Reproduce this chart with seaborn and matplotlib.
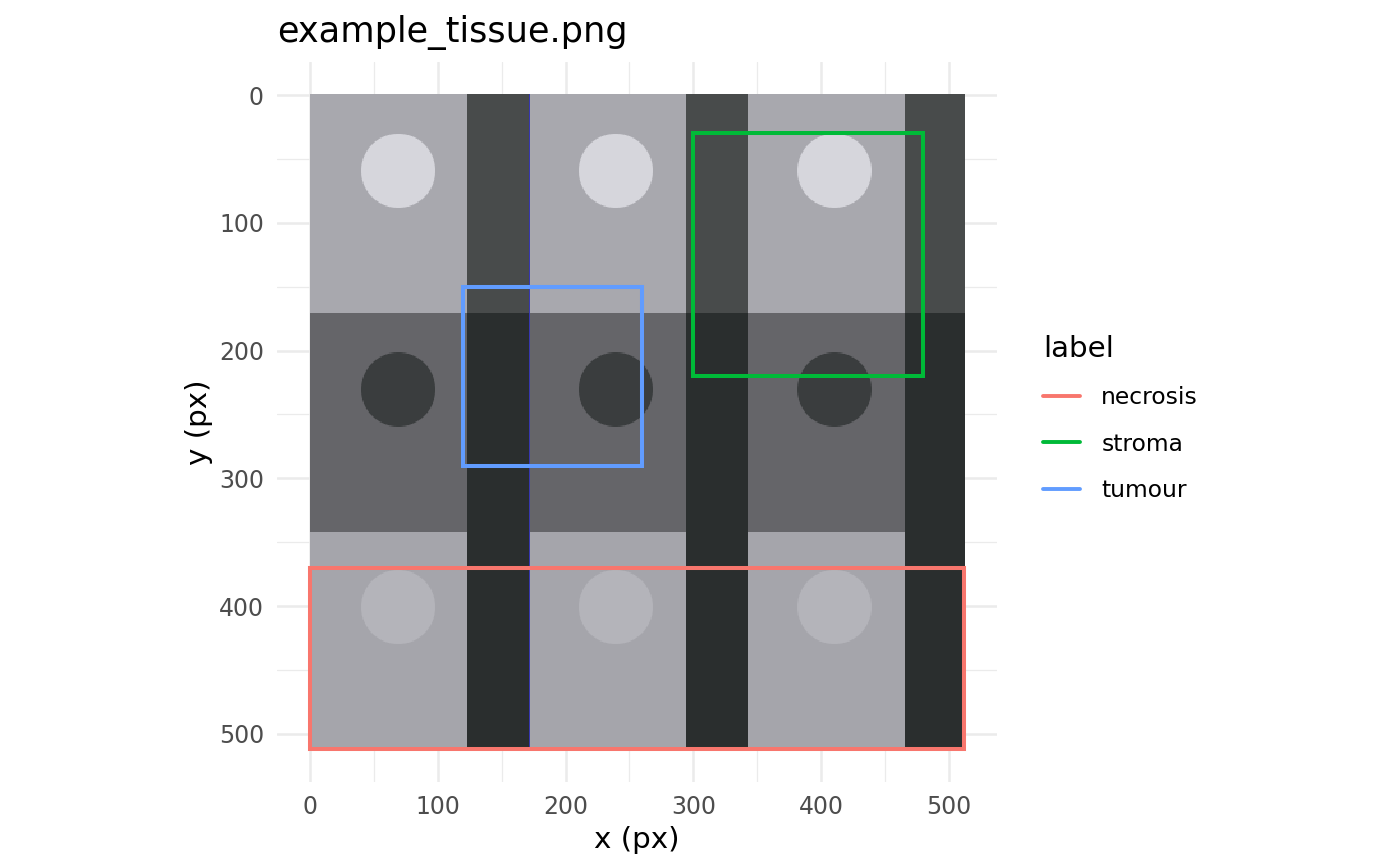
import numpy as np
import pandas as pd
import matplotlib
matplotlib.use("Agg")
import matplotlib.pyplot as plt
import seaborn as sns
from matplotlib.lines import Line2D
from matplotlib.ticker import MultipleLocator

# ---------------- data ----------------
title = "example_tissue.png"
img_size = 512
# image layout (rows of tissue blocks, dark vertical bands, round nuclei)
row_edges = [0, 171, 342, 512]
row_rgb = [(168, 168, 174), (101, 101, 105), (165, 165, 171)]
band_edges = [(123, 172), (294, 342), (465, 512)]
band_rgb = [(72, 75, 75), (42, 46, 46), (42, 46, 46)]   # per row
edge_col = 171
edge_rgb = (55, 55, 175)
circle_cx = [69, 239, 410]
circle_cy = [60, 231, 401]
circle_r = 29
circle_rgb = [(214, 214, 220), (58, 61, 62), (180, 180, 186)]  # per row

# annotated regions
labels = ["necrosis", "stroma", "tumour"]
xmin = [0, 300, 120]
xmax = [512, 480, 260]
ymin = [370, 30, 150]
ymax = [512, 220, 290]
colors = ["#F8766D", "#00BA38", "#619CFF"]

ticks = [0, 100, 200, 300, 400, 500]
x_title = "x (px)"
y_title = "y (px)"
legend_title = "label"

# ---------------- build image ----------------
img = np.zeros((img_size, img_size, 3), dtype=float)
yy, xx = np.mgrid[0:img_size, 0:img_size] + 0.5
for i in range(3):
    r0, r1 = row_edges[i], row_edges[i + 1]
    img[r0:r1, :, :] = row_rgb[i]
for i in range(3):
    col = np.array(circle_rgb[i], dtype=float)
    for cx in circle_cx:
        d = np.sqrt((xx - cx) ** 2 + (yy - circle_cy[i]) ** 2)
        a = np.clip(circle_r + 0.5 - d, 0, 1)[..., None]
        img = img * (1 - a) + col * a
for i in range(3):
    r0, r1 = row_edges[i], row_edges[i + 1]
    for (b0, b1) in band_edges:
        img[r0:r1, b0:b1, :] = band_rgb[i]
img[:, edge_col, :] = edge_rgb
img = np.clip(img, 0, 255).astype(np.uint8)

# rectangle outlines as closed paths
recs = []
for lab, x0, x1, y0, y1 in zip(labels, xmin, xmax, ymin, ymax):
    px = [x0, x1, x1, x0, x0]
    py = [y0, y0, y1, y1, y0]
    for k, (a, b) in enumerate(zip(px, py)):
        recs.append({"label": lab, "x": a, "y": b, "order": k})
df = pd.DataFrame(recs)

# ---------------- plot ----------------
sns.set_style("white")
plt.rcParams["font.family"] = ["DejaVu Sans"]
plt.rcParams["text.color"] = "black"

fig = plt.figure(figsize=(14, 8.66), dpi=100)
ax = fig.add_axes([277.3 / 1400, 1 - 782.0 / 866, 719.7 / 1400, 719.7 / 866])

lo, hi = -25.6, 537.6
ax.imshow(img, extent=(0, img_size, img_size, 0), interpolation="nearest",
          zorder=1, aspect="equal")

palette = dict(zip(labels, colors))
sns.lineplot(data=df, x="x", y="y", hue="label", palette=palette,
             sort=False, estimator=None, units="label", ax=ax,
             linewidth=2.9, legend=False, zorder=3,
             solid_joinstyle="miter", solid_capstyle="projecting")

ax.set_xlim(lo, hi)
ax.set_ylim(hi, lo)
ax.set_xticks(ticks)
ax.set_yticks(ticks)
ax.xaxis.set_minor_locator(MultipleLocator(50))
ax.yaxis.set_minor_locator(MultipleLocator(50))
ax.set_axisbelow(True)
ax.grid(which="major", color="#EBEBEB", linewidth=1.8, zorder=0)
ax.grid(which="minor", color="#EBEBEB", linewidth=0.9, zorder=0)
for s in ax.spines.values():
    s.set_visible(False)
ax.tick_params(which="both", length=0, labelsize=17, labelcolor="#4D4D4D",
               pad=9.6)

ax.set_xlabel(x_title, fontsize=21.2, color="black")
ax.set_ylabel(y_title, fontsize=21.2, color="black")
ax.xaxis.set_label_coords(0.5, -(826 - 782) / 719.7)
ax.xaxis.label.set_va("top")
ax.yaxis.set_label_coords(-(277.3 - 213) / 719.7, 0.5)

ax.set_title(title, loc="left", fontsize=25.3, pad=14.4, color="black")

handles = [Line2D([0], [0], color=c, linewidth=2.8) for c in colors]
leg = fig.legend(handles, labels, title=legend_title, loc="upper left",
                 bbox_to_anchor=(1043 / 1400, 1 - 335 / 866),
                 frameon=False, fontsize=16.8, title_fontsize=21.2,
                 handlelength=1.6, handletextpad=0.9, labelspacing=1.0,
                 borderpad=0, borderaxespad=0, alignment="left",
                 labelcolor="black")
leg.get_title().set_color("black")

fig.savefig("out.png", dpi=100)
